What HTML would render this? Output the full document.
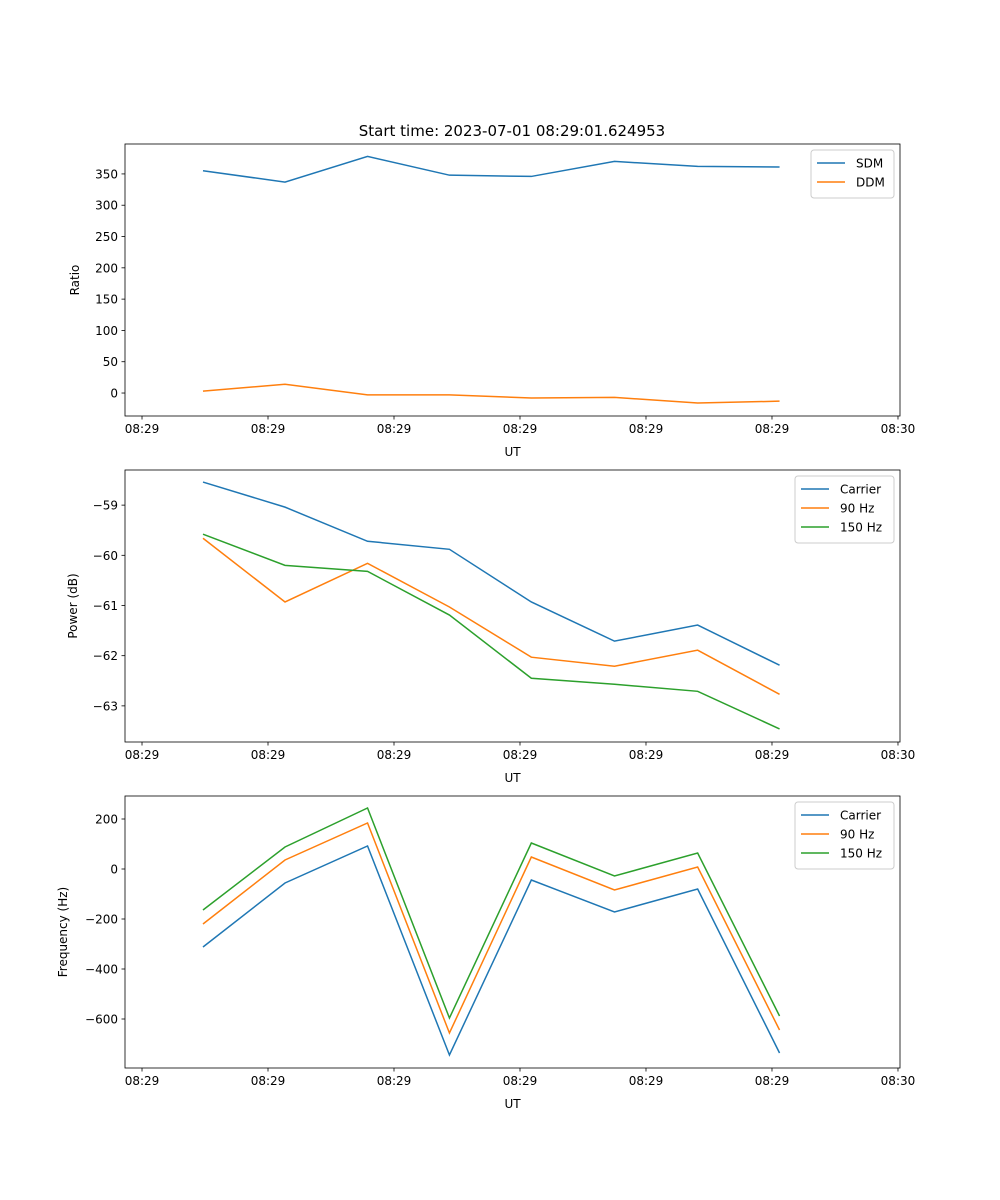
<!DOCTYPE html>
<html><head><meta charset="utf-8">
<style>
body{margin:0;background:#fff;}
svg{display:block;font-family:"DejaVu Sans","Liberation Sans",sans-serif;}
</style></head>
<body>
<svg id="fig" width="1000" height="1200" viewBox="0 0 1000 1200" xmlns="http://www.w3.org/2000/svg">
<rect width="1000" height="1200" fill="#fff"/>
<text x="512" y="136" font-size="15" text-anchor="middle">Start time: 2023-07-01 08:29:01.624953</text>
</svg>
<script>
// time offsets in seconds after 08:29:00
const times = [4.84, 11.35, 17.9, 24.4, 30.9, 37.5, 44.1, 50.6];
const xTickSecs = [0, 10, 20, 30, 40, 50, 60];
const xTickLabels = ["08:29","08:29","08:29","08:29","08:29","08:29","08:30"];
const sdm = [355, 337, 378, 348, 346, 370, 362, 361];
const ddm = [3, 14, -3, -3, -8, -7, -16, -13];
const pwrCarrier = [-58.54, -59.04, -59.72, -59.88, -60.93, -61.71, -61.39, -62.19];
const pwr90 = [-59.66, -60.93, -60.16, -61.03, -62.03, -62.21, -61.89, -62.77];
const pwr150 = [-59.58, -60.20, -60.32, -61.19, -62.45, -62.57, -62.71, -63.46];
const frqCarrier = [-312, -56, 92, -744, -44, -172, -80, -736];
const frq90 = [-220, 36, 184, -656, 48, -84, 8, -644];
const frq150 = [-164, 88, 244, -596, 104, -28, 64, -588];
const ticks1 = [0, 50, 100, 150, 200, 250, 300, 350];
const ticks2 = [-63, -62, -61, -60, -59];
const ticks3 = [-600, -400, -200, 0, 200];

const NS = "http://www.w3.org/2000/svg";
const svg = document.getElementById("fig");
const L = 125, R = 900;
const xmin = -1.35, xmax = 60.16;
const xs = t => L + (t - xmin) / (xmax - xmin) * (R - L);
function mk(tag, attrs, parent) {
  const e = document.createElementNS(NS, tag);
  for (const k in attrs) e.setAttribute(k, attrs[k]);
  (parent || svg).appendChild(e);
  return e;
}
const C = ["#1f77b4", "#ff7f0e", "#2ca02c"];

function panel(name, top, bot, ymin, ymax, yticks, ylabel, series, names, legW) {
  const g = mk("g", {});
  
  
  const ys = v => bot - (v - ymin) / (ymax - ymin) * (bot - top);
  // series
  series.forEach((s, i) => {
    const p = mk("polyline", {points: s.map((v, j) => xs(times[j]) + "," + ys(v)).join(" "), fill: "none", stroke: C[i], "stroke-width": 1.5}, g);
    
    
  });
  // frame
  const f = mk("rect", {x: L, y: top, width: R - L, height: bot - top, fill: "none", stroke: "#000", "stroke-width": 0.8}, g);
  
  
  // x ticks
  xTickSecs.forEach((t, i) => {
    const x = xs(t);
    mk("line", {x1: x, x2: x, y1: bot, y2: bot + 3.5, stroke: "#000", "stroke-width": 0.8}, g);
    const tx = mk("text", {x: x, y: bot + 17, "font-size": 12, "text-anchor": "middle"}, g);
    
    
    tx.textContent = xTickLabels[i];
  });
  const xl = mk("text", {x: (L + R) / 2, y: bot + 40, "font-size": 12, "text-anchor": "middle"}, g);
  
  
  xl.textContent = "UT";
  // y ticks
  yticks.forEach(v => {
    const y = ys(v);
    mk("line", {x1: L - 3.5, x2: L, y1: y, y2: y, stroke: "#000", "stroke-width": 0.8}, g);
    const tx = mk("text", {x: L - 7, y: y + 4.5, "font-size": 12, "text-anchor": "end"}, g);
    
    
    tx.textContent = v < 0 ? "\u2212" + Math.abs(v) : String(v);
  });
  const yx = name === "frequency-panel" ? 67 : (name === "power-panel" ? 77 : 79);
  const yl = mk("text", {x: yx, y: (top + bot) / 2, "font-size": 12, "text-anchor": "middle", transform: `rotate(-90 ${yx} ${(top + bot) / 2})`}, g);
  
  
  yl.textContent = ylabel;
  // legend
  const lx = R - 6 - legW, ly = top + 6, lh = 10 + names.length * 19;
  const lg = mk("g", {}, g);
  
  
  mk("rect", {x: lx, y: ly, width: legW, height: lh, rx: 3, fill: "#fff", "fill-opacity": 0.8, stroke: "#ccc"}, lg);
  names.forEach((n, i) => {
    const yy = ly + 13 + i * 19;
    mk("line", {x1: lx + 6, x2: lx + 34, y1: yy, y2: yy, stroke: C[i], "stroke-width": 1.5}, lg);
    const t = mk("text", {x: lx + 45, y: yy + 4.5, "font-size": 12}, lg);
    
    
    t.textContent = n;
  });
}
panel("ratio-panel", 144, 416, -36.7, 397.8, ticks1, "Ratio", [sdm, ddm], ["SDM", "DDM"], 83);
panel("power-panel", 470, 742, -63.72, -58.30, ticks2, "Power (dB)", [pwrCarrier, pwr90, pwr150], ["Carrier", "90 Hz", "150 Hz"], 99);
panel("frequency-panel", 796, 1068, -796, 292, ticks3, "Frequency (Hz)", [frqCarrier, frq90, frq150], ["Carrier", "90 Hz", "150 Hz"], 99);
</script>
</body></html>
